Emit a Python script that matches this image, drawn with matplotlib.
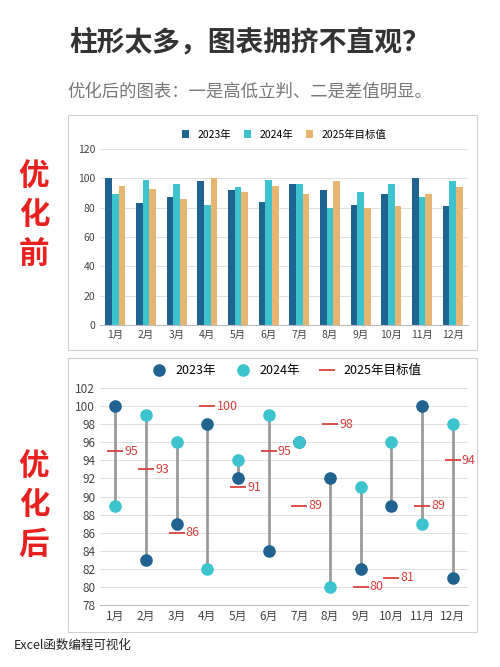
import matplotlib.pyplot as plt
import numpy as np
from matplotlib.patches import Rectangle

plt.rcParams['font.family'] = ['Noto Sans CJK SC', 'DejaVu Sans']

months = ['1月', '2月', '3月', '4月', '5月', '6月', '7月', '8月', '9月', '10月', '11月', '12月']
y2023 = [100, 83, 87, 98, 92, 84, 96, 92, 82, 89, 100, 81]
y2024 = [89, 99, 96, 82, 94, 99, 96, 80, 91, 96, 87, 98]
target = [95, 93, 86, 100, 91, 95, 89, 98, 80, 81, 89, 94]

c23 = '#1F6391'
c24 = '#3CC3CE'
ctg = '#E6B572'
cred = '#D9413E'

fig = plt.figure(figsize=(5, 6.67), dpi=100)
W, H = 500, 667

def fr(x0, y0, x1, y1):
    return [x0 / W, 1 - y1 / H, (x1 - x0) / W, (y1 - y0) / H]

fig.text(0.5, 1 - 42 / H, '柱形太多，图表拥挤不直观？', ha='center', va='center',
         fontsize=20, fontweight='bold', color='#333333')
fig.text(0.5, 1 - 92 / H, '优化后的图表：一是高低立判、二是差值明显。', ha='center', va='center',
         fontsize=12.5, color='#777777')
fig.text(34 / W, 1 - 215 / H, '优\n化\n前', ha='center', va='center', fontsize=22,
         color='#E8201E', linespacing=1.3, fontweight='bold')
fig.text(34 / W, 1 - 505 / H, '优\n化\n后', ha='center', va='center', fontsize=22,
         color='#E8201E', linespacing=1.3, fontweight='bold')
fig.text(14 / W, 1 - 645 / H, 'Excel函数编程可视化', ha='left', va='center', fontsize=9,
         color='#222222')

for (x0, y0, x1, y1) in [(68, 115, 477, 350), (68, 358, 477, 632)]:
    fig.patches.append(Rectangle((x0 / W, 1 - y1 / H), (x1 - x0) / W, (y1 - y0) / H,
                                 transform=fig.transFigure, fill=False, edgecolor='#D0D0D0', lw=0.8))

x = np.arange(len(months))

# top: grouped bars
ax1 = fig.add_axes(fr(100, 149, 468, 325))
bw = 0.22
ax1.bar(x - bw, y2023, bw, color=c23, label='2023年')
ax1.bar(x, y2024, bw, color=c24, label='2024年')
ax1.bar(x + bw, target, bw, color=ctg, label='2025年目标值')
ax1.set_ylim(0, 120)
ax1.set_yticks(range(0, 121, 20))
ax1.set_xlim(-0.5, 11.5)
ax1.set_xticks(x)
ax1.set_xticklabels(months)
ax1.tick_params(labelsize=7.5, colors='#444444', length=0)
ax1.grid(axis='y', color='#E0E0E0', lw=0.7)
ax1.set_axisbelow(True)
for s in ['top', 'right', 'left']:
    ax1.spines[s].set_visible(False)
ax1.spines['bottom'].set_color('#BBBBBB')
ax1.legend(loc='lower center', bbox_to_anchor=(0.5, 1.0), ncol=3, frameon=False,
           fontsize=7.5, handlelength=0.7, handleheight=0.7, columnspacing=1.2)

# bottom: dumbbell
ax2 = fig.add_axes(fr(100, 388, 468, 605))
ax2.vlines(x, np.minimum(y2023, y2024), np.maximum(y2023, y2024), color='#9A9A9A', lw=2, zorder=1)
ax2.scatter(x, y2023, s=65, color=c23, zorder=3, label='2023年')
ax2.scatter(x, y2024, s=65, color=c24, zorder=3, label='2024年')
ax2.scatter(x, target, s=130, marker='_', color=cred, linewidths=1.3, zorder=4, label='2025年目标值')
for xi, t in zip(x, target):
    ax2.text(xi + 0.3, t, str(t), color=cred, fontsize=9, va='center', ha='left')
ax2.set_ylim(78, 102)
ax2.set_yticks(range(78, 103, 2))
ax2.set_xlim(-0.5, 11.5)
ax2.set_xticks(x)
ax2.set_xticklabels(months)
ax2.tick_params(labelsize=8.5, colors='#444444', length=0)
ax2.grid(axis='y', color='#E0E0E0', lw=0.7)
ax2.set_axisbelow(True)
for s in ['top', 'right', 'left']:
    ax2.spines[s].set_visible(False)
ax2.spines['bottom'].set_color('#BBBBBB')
ax2.legend(loc='lower center', bbox_to_anchor=(0.5, 1.0), ncol=3, frameon=False,
           fontsize=9, handletextpad=0.3, columnspacing=1.2)

fig.savefig('out.png', dpi=100)
